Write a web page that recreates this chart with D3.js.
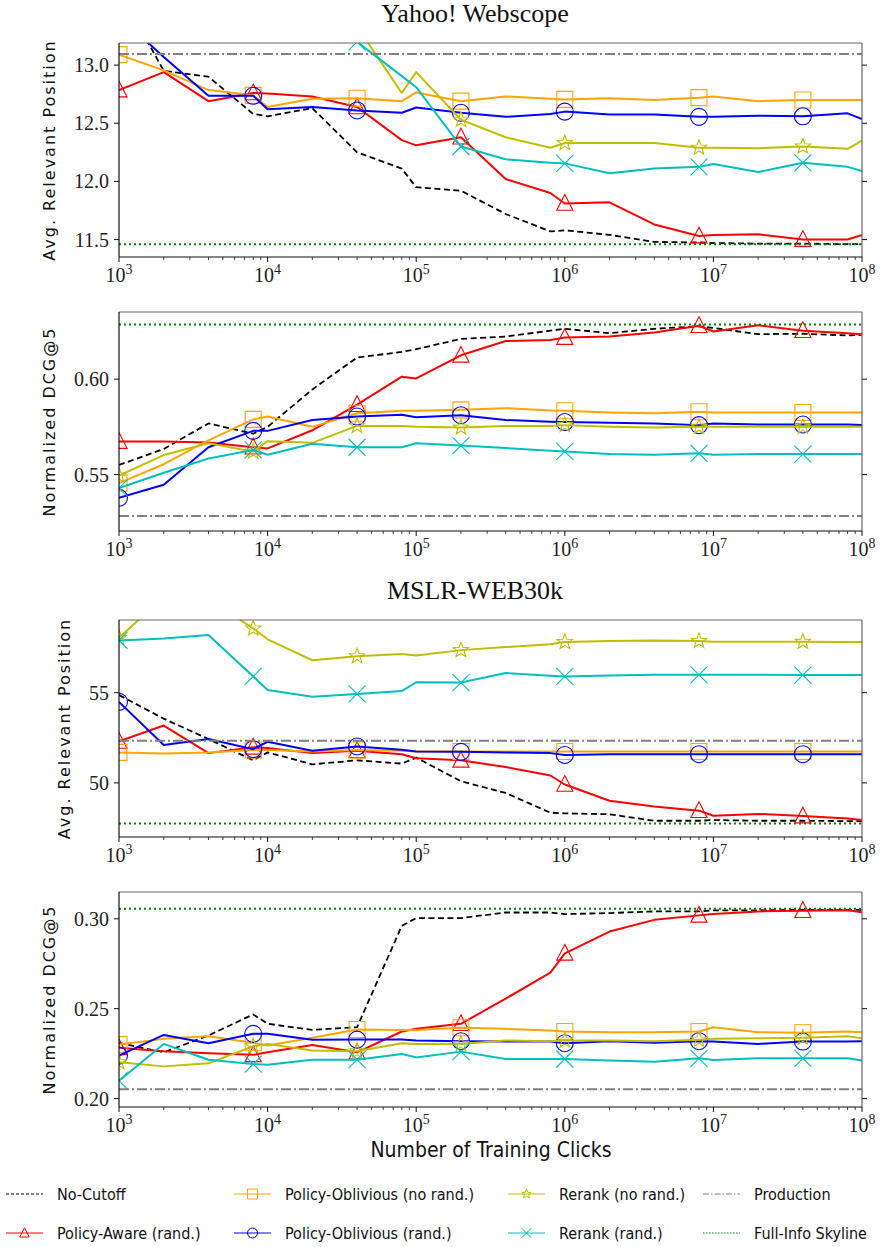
<!DOCTYPE html>
<html>
<head>
<meta charset="utf-8">
<script src="https://cdn.jsdelivr.net/npm/d3@7"></script>
<style>
  body { margin: 0; background: #fff; }
  svg { display: block; }
  .tick-label { font-family: "Liberation Serif", "DejaVu Serif", serif; font-size: 20px; fill: #222; }
  .ylab { font-family: "DejaVu Sans", sans-serif; font-size: 16px; letter-spacing: 2px; fill: #111; }
  .title { font-family: "Liberation Serif", serif; font-size: 26px; fill: #111; }
  .xlab { font-family: "Liberation Sans Narrow", "DejaVu Sans Condensed", "DejaVu Sans", sans-serif; font-stretch: condensed; font-size: 21px; fill: #111; }
  .leg { font-family: "Liberation Sans Narrow", "DejaVu Sans Condensed", "DejaVu Sans", sans-serif; font-stretch: condensed; font-size: 16px; fill: #111; }
</style>
</head>
<body>
<script>
// x positions of every run (training clicks)
var clicks = [1e3, 2e3, 4e3, 8e3, 1e4, 2e4, 4e4, 8e4, 1e5, 2e5, 4e5, 8e5, 1e6, 2e6, 4e6, 8e6, 1e7, 2e7, 4e7, 8e7, 1e8];
var xTicks = [1e3, 1e4, 1e5, 1e6, 1e7, 1e8];

var seriesNames = ["No-Cutoff", "Policy-Aware (rand.)", "Policy-Oblivious (no rand.)", "Policy-Oblivious (rand.)", "Rerank (no rand.)", "Rerank (rand.)"];

// Yahoo! Webscope - avg. relevant position
var yahooPosNoCutoff = [13.65, 12.95, 12.90, 12.58, 12.56, 12.63, 12.25, 12.11, 11.95, 11.92, 11.72, 11.57, 11.58, 11.54, 11.48, 11.475, 11.47, 11.465, 11.465, 11.46, 11.46];
var yahooPosAware = [12.785, 12.94, 12.69, 12.76, 12.755, 12.73, 12.64, 12.355, 12.31, 12.38, 12.02, 11.90, 11.81, 11.82, 11.63, 11.53, 11.54, 11.545, 11.50, 11.50, 11.54];
var yahooPosOblNoRand = [13.09, 12.955, 12.785, 12.74, 12.64, 12.71, 12.715, 12.69, 12.765, 12.69, 12.73, 12.71, 12.705, 12.715, 12.70, 12.72, 12.73, 12.69, 12.70, 12.70, 12.70];
var yahooPosOblRand = [13.42, 13.07, 12.736, 12.736, 12.62, 12.64, 12.61, 12.59, 12.635, 12.59, 12.555, 12.58, 12.60, 12.575, 12.575, 12.555, 12.555, 12.565, 12.56, 12.585, 12.535];
var yahooPosRerankNoRand = [14.5, 14.3, 14.1, 13.9, 13.8, 13.6, 13.33, 12.76, 12.94, 12.53, 12.38, 12.29, 12.33, 12.33, 12.33, 12.29, 12.29, 12.285, 12.30, 12.28, 12.35];
var yahooPosRerankRand = [14.4, 14.2, 14.0, 13.9, 13.8, 13.5, 13.2, 12.905, 12.81, 12.30, 12.19, 12.16, 12.155, 12.07, 12.11, 12.125, 12.15, 12.08, 12.16, 12.125, 12.09];

// Yahoo! Webscope - normalized DCG@5
var yahooDcgNoCutoff = [0.555, 0.5634, 0.5768, 0.5714, 0.575, 0.5946, 0.6113, 0.6143, 0.6157, 0.6211, 0.6223, 0.6254, 0.6264, 0.6241, 0.6264, 0.6277, 0.6268, 0.6236, 0.6238, 0.6229, 0.6232];
var yahooDcgAware = [0.5673, 0.5673, 0.5668, 0.5643, 0.5637, 0.5732, 0.5866, 0.6013, 0.6004, 0.6125, 0.620, 0.6205, 0.6218, 0.6223, 0.6245, 0.628, 0.625, 0.6282, 0.6254, 0.6241, 0.6236];
var yahooDcgOblNoRand = [0.5455, 0.5554, 0.5679, 0.5789, 0.5804, 0.575, 0.5821, 0.5834, 0.5834, 0.5839, 0.5848, 0.5836, 0.5834, 0.5825, 0.5821, 0.5829, 0.5825, 0.5825, 0.5825, 0.5825, 0.5825];
var yahooDcgOblRand = [0.5378, 0.5446, 0.5643, 0.5729, 0.5729, 0.5786, 0.5804, 0.5813, 0.580, 0.5811, 0.5786, 0.5777, 0.5775, 0.5771, 0.5768, 0.5759, 0.5768, 0.5762, 0.5762, 0.5762, 0.5759];
var yahooDcgRerankNoRand = [0.5495, 0.5602, 0.5664, 0.562, 0.5675, 0.5666, 0.5755, 0.5755, 0.575, 0.5746, 0.5754, 0.5754, 0.5759, 0.575, 0.5746, 0.575, 0.575, 0.575, 0.575, 0.575, 0.575];
var yahooDcgRerankRand = [0.5429, 0.5509, 0.5584, 0.5629, 0.5604, 0.5661, 0.5643, 0.5643, 0.5664, 0.5652, 0.5639, 0.5625, 0.5621, 0.5607, 0.5604, 0.5611, 0.5604, 0.5607, 0.5607, 0.5607, 0.5607];

// MSLR-WEB30k - avg. relevant position
var mslrPosNoCutoff = [54.87, 53.56, 52.43, 51.25, 51.69, 51.03, 51.25, 51.07, 51.40, 50.09, 49.44, 48.35, 48.31, 48.26, 47.90, 47.90, 47.94, 47.90, 47.90, 47.88, 47.88];
var mslrPosAware = [52.30, 53.18, 51.65, 51.97, 51.93, 51.65, 51.78, 51.59, 51.37, 51.25, 50.88, 50.41, 49.91, 49.01, 48.69, 48.46, 48.18, 48.28, 48.16, 48.03, 47.94];
var mslrPosOblNoRand = [51.69, 51.63, 51.69, 51.82, 51.82, 51.74, 51.82, 51.78, 51.74, 51.74, 51.74, 51.74, 51.74, 51.74, 51.74, 51.74, 51.74, 51.74, 51.74, 51.74, 51.74];
var mslrPosOblRand = [54.49, 52.10, 52.43, 51.87, 52.28, 51.78, 52.02, 51.84, 51.74, 51.72, 51.69, 51.65, 51.55, 51.59, 51.59, 51.59, 51.59, 51.59, 51.59, 51.59, 51.59];
var mslrPosRerankNoRand = [58.05, 60.3, 60.2, 58.56, 57.96, 56.80, 57.02, 57.15, 57.06, 57.36, 57.53, 57.68, 57.81, 57.87, 57.90, 57.87, 57.83, 57.83, 57.82, 57.81, 57.81];
var mslrPosRerankRand = [57.90, 58.01, 58.20, 55.90, 55.15, 54.78, 54.93, 55.09, 55.58, 55.56, 56.09, 55.94, 55.90, 55.96, 55.99, 55.99, 55.99, 55.99, 55.98, 55.98, 55.98];

// MSLR-WEB30k - normalized DCG@5
var mslrDcgNoCutoff = [0.231, 0.2257, 0.2351, 0.2468, 0.2416, 0.2382, 0.2397, 0.2961, 0.3004, 0.3004, 0.3035, 0.3035, 0.3026, 0.3032, 0.3041, 0.3041, 0.3047, 0.3047, 0.305, 0.305, 0.305];
var mslrDcgAware = [0.2282, 0.2263, 0.2252, 0.2243, 0.2257, 0.2298, 0.2257, 0.2373, 0.2388, 0.2416, 0.2556, 0.270, 0.2808, 0.2929, 0.2994, 0.3019, 0.3026, 0.3041, 0.3045, 0.3047, 0.3037];
var mslrDcgOblNoRand = [0.230, 0.2332, 0.2347, 0.231, 0.2295, 0.2338, 0.2384, 0.2382, 0.2382, 0.2394, 0.2388, 0.2379, 0.2373, 0.2369, 0.2369, 0.2373, 0.2397, 0.2369, 0.2366, 0.2373, 0.2369];
var mslrDcgOblRand = [0.2239, 0.2354, 0.2308, 0.236, 0.236, 0.2327, 0.2328, 0.2328, 0.2323, 0.2319, 0.2317, 0.2317, 0.2308, 0.2319, 0.231, 0.2319, 0.2317, 0.2304, 0.2317, 0.2317, 0.2319];
var mslrDcgRerankNoRand = [0.2202, 0.2179, 0.2196, 0.2291, 0.2304, 0.2267, 0.2263, 0.2308, 0.2304, 0.2304, 0.2323, 0.2319, 0.2323, 0.2323, 0.2319, 0.2327, 0.2332, 0.2335, 0.2338, 0.2347, 0.2336];
var mslrDcgRerankRand = [0.2099, 0.2304, 0.2216, 0.2192, 0.2188, 0.2216, 0.2216, 0.2248, 0.2229, 0.2261, 0.222, 0.222, 0.222, 0.2211, 0.2205, 0.2224, 0.2215, 0.2224, 0.2224, 0.2224, 0.2211];

// constant baselines per panel: production ranker and full-info skyline
var productionValues = [13.095, 0.5282, 52.34, 0.2052];
var skylineValues = [11.46, 0.6286, 47.75, 0.3056];

var yTicksYahooPos = [11.5, 12.0, 12.5, 13.0];
var yTicksYahooDcg = [0.55, 0.60];
var yTicksMslrPos = [50, 55];
var yTicksMslrDcg = [0.20, 0.25, 0.30];

var width = 885, height = 1247;
var left = 119, right = 862;

var styles = [
  { color: "#000000", dash: "6,3.5", width: 1.8, marker: null },
  { color: "#ff0000", dash: null, width: 2, marker: "triangle" },
  { color: "#ffa500", dash: null, width: 2, marker: "square" },
  { color: "#0000ff", dash: null, width: 2, marker: "circle" },
  { color: "#bfbf00", dash: null, width: 2, marker: "star" },
  { color: "#00bfbf", dash: null, width: 2, marker: "x" }
];

var panels = [
  { top: 43, bottom: 257, domain: [11.35, 13.19], ticks: yTicksYahooPos, fmt: d3.format(".1f"),
    ylabel: "Avg. Relevant Position", ylabX: 55, title: "Yahoo! Webscope", titleY: 22,
    series: [yahooPosNoCutoff, yahooPosAware, yahooPosOblNoRand, yahooPosOblRand, yahooPosRerankNoRand, yahooPosRerankRand] },
  { top: 312, bottom: 531, domain: [0.5204, 0.6352], ticks: yTicksYahooDcg, fmt: d3.format(".2f"),
    ylabel: "Normalized DCG@5", ylabX: 55,
    series: [yahooDcgNoCutoff, yahooDcgAware, yahooDcgOblNoRand, yahooDcgOblRand, yahooDcgRerankNoRand, yahooDcgRerankRand] },
  { top: 620, bottom: 837, domain: [47.0, 59.03], ticks: yTicksMslrPos, fmt: d3.format("d"),
    ylabel: "Avg. Relevant Position", ylabX: 70, title: "MSLR-WEB30k", titleY: 599,
    series: [mslrPosNoCutoff, mslrPosAware, mslrPosOblNoRand, mslrPosOblRand, mslrPosRerankNoRand, mslrPosRerankRand] },
  { top: 892, bottom: 1107, domain: [0.1953, 0.3149], ticks: yTicksMslrDcg, fmt: d3.format(".2f"),
    ylabel: "Normalized DCG@5", ylabX: 55,
    series: [mslrDcgNoCutoff, mslrDcgAware, mslrDcgOblNoRand, mslrDcgOblRand, mslrDcgRerankNoRand, mslrDcgRerankRand] }
];

var svg = d3.select("body").append("svg")
  .attr("width", width)
  .attr("height", height);

var x = d3.scaleLog().domain([1e3, 1e8]).range([left, right]);

// marker path, centred on 0,0
function markerPath(kind, s) {
  var h = s / 2;
  if (kind == "square") return "M" + (-h) + "," + (-h) + "h" + s + "v" + s + "h" + (-s) + "Z";
  if (kind == "circle") return d3.symbol(d3.symbolCircle, Math.PI * h * h)();
  if (kind == "triangle") return "M0," + (-h * 1.05) + "L" + (h * 0.95) + "," + (h * 0.8) + "L" + (-h * 0.95) + "," + (h * 0.8) + "Z";
  if (kind == "x") return "M" + (-h) + "," + (-h) + "L" + h + "," + h + "M" + (-h) + "," + h + "L" + h + "," + (-h);
  if (kind == "star") {
    var pts = [];
    for (var i = 0; i < 10; i++) {
      var r = i % 2 == 0 ? h : h * 0.42;
      var a = -Math.PI / 2 + i * Math.PI / 5;
      pts.push([r * Math.cos(a), r * Math.sin(a)]);
    }
    return "M" + pts.map(function(p) { return p[0].toFixed(2) + "," + p[1].toFixed(2); }).join("L") + "Z";
  }
  return "";
}

var markerSize = { square: 16, circle: 17, triangle: 17, x: 17, star: 16 };

panels.forEach(function(p, pi) {
  var y = d3.scaleLinear().domain(p.domain).range([p.bottom, p.top]);
  var g = svg.append("g");

  var clipId = "clip" + pi;
  svg.append("clipPath").attr("id", clipId)
    .append("rect")
    .attr("x", left).attr("y", p.top)
    .attr("width", right - left).attr("height", p.bottom - p.top);

  var plot = g.append("g").attr("clip-path", "url(#" + clipId + ")");

  var line = d3.line()
    .x(function(d, i) { return x(clicks[i]); })
    .y(function(d) { return y(d); });

  p.series.forEach(function(vals, si) {
    var st = styles[si];
    plot.append("path")
      .datum(vals)
      .attr("d", line)
      .attr("fill", "none")
      .attr("stroke", st.color)
      .attr("stroke-width", st.width)
      .attr("stroke-dasharray", st.dash)
      .attr("stroke-linejoin", "round");
    if (st.marker) {
      plot.selectAll(".m" + si)
        .data(vals.filter(function(d, i) { return i % 3 == 0; }))
        .enter().append("path")
        .attr("class", "m" + si)
        .attr("transform", function(d, i) { return "translate(" + x(clicks[i * 3]) + "," + y(d) + ")"; })
        .attr("d", markerPath(st.marker, markerSize[st.marker]))
        .attr("fill", "none")
        .attr("stroke", st.color)
        .attr("stroke-width", 1.1);
    }
  });

  // production + skyline
  plot.append("line")
    .attr("x1", left).attr("x2", right)
    .attr("y1", y(productionValues[pi])).attr("y2", y(productionValues[pi]))
    .attr("stroke", "#808080").attr("stroke-width", 2)
    .attr("stroke-dasharray", "10,3,2,3");
  plot.append("line")
    .attr("x1", left).attr("x2", right)
    .attr("y1", y(skylineValues[pi])).attr("y2", y(skylineValues[pi]))
    .attr("stroke", "#008000").attr("stroke-width", 2)
    .attr("stroke-dasharray", "2,3");

  // frame
  g.append("line").attr("x1", left).attr("x2", right).attr("y1", p.top).attr("y2", p.top).attr("stroke", "#666").attr("stroke-width", 1.2);
  g.append("line").attr("x1", right).attr("x2", right).attr("y1", p.top).attr("y2", p.bottom).attr("stroke", "#666").attr("stroke-width", 1.2);
  g.append("line").attr("x1", left).attr("x2", left).attr("y1", p.top).attr("y2", p.bottom).attr("stroke", "#111").attr("stroke-width", 1.2);
  g.append("line").attr("x1", left).attr("x2", right).attr("y1", p.bottom).attr("y2", p.bottom).attr("stroke", "#111").attr("stroke-width", 1.2);

  // x ticks (major + minor, outward)
  var minor = [];
  for (var e = 3; e < 8; e++) for (var k = 2; k < 10; k++) minor.push(k * Math.pow(10, e));
  g.selectAll(".minor").data(minor).enter().append("line")
    .attr("x1", function(d) { return x(d); }).attr("x2", function(d) { return x(d); })
    .attr("y1", p.bottom).attr("y2", p.bottom + 3)
    .attr("stroke", "#111").attr("stroke-width", 0.8);
  g.selectAll(".major").data(xTicks).enter().append("line")
    .attr("x1", function(d) { return x(d); }).attr("x2", function(d) { return x(d); })
    .attr("y1", p.bottom).attr("y2", p.bottom + 5)
    .attr("stroke", "#111").attr("stroke-width", 1);
  var xl = g.selectAll(".xlabel").data(xTicks).enter().append("text")
    .attr("class", "tick-label")
    .attr("x", function(d) { return x(d); })
    .attr("y", p.bottom + 25)
    .attr("text-anchor", "middle");
  xl.append("tspan").text("10");
  xl.append("tspan").attr("dy", -8).attr("font-size", 14).text(function(d) { return Math.round(Math.log10(d)); });

  // y ticks, both sides outward
  p.ticks.forEach(function(t) {
    var ty = y(t);
    g.append("line").attr("x1", left - 5).attr("x2", left).attr("y1", ty).attr("y2", ty).attr("stroke", "#111");
    g.append("line").attr("x1", right).attr("x2", right + 5).attr("y1", ty).attr("y2", ty).attr("stroke", "#111");
    g.append("text").attr("class", "tick-label")
      .attr("x", left - 10).attr("y", ty + 7)
      .attr("text-anchor", "end")
      .text(p.fmt(t));
  });

  g.append("text").attr("class", "ylab")
    .attr("transform", "translate(" + p.ylabX + "," + ((p.top + p.bottom) / 2) + ") rotate(-90)")
    .attr("text-anchor", "middle")
    .text(p.ylabel);

  if (p.title) {
    svg.append("text").attr("class", "title")
      .attr("x", 475).attr("y", p.titleY)
      .attr("text-anchor", "middle")
      .text(p.title);
  }
});

svg.append("text").attr("class", "xlab")
  .attr("x", 491).attr("y", 1157)
  .attr("text-anchor", "middle")
  .text("Number of Training Clicks");

// legend: 2 rows x 4 columns, filled column by column
var legendItems = seriesNames.map(function(n, i) { return { name: n, style: styles[i] }; });
legendItems.push({ name: "Production", style: { color: "#808080", dash: "6,2,1.5,2", width: 1, marker: null } });
legendItems.push({ name: "Full-Info Skyline", style: { color: "#008000", dash: "1.5,1.5", width: 1, marker: null } });
var legCols = [6, 234, 508, 703];
var legRows = [1194, 1233];

legendItems.forEach(function(item, i) {
  var cx = legCols[Math.floor(i / 2)];
  var cy = legRows[i % 2];
  var lg = svg.append("g");
  lg.append("line")
    .attr("x1", cx).attr("x2", cx + 37)
    .attr("y1", cy).attr("y2", cy)
    .attr("stroke", item.style.color)
    .attr("stroke-width", item.style.marker ? 1.2 : 1)
    .attr("stroke-dasharray", item.name == "No-Cutoff" ? "3,2" : item.style.dash);
  if (item.style.marker) {
    lg.append("path")
      .attr("transform", "translate(" + (cx + 18.5) + "," + cy + ")")
      .attr("d", markerPath(item.style.marker, 10))
      .attr("fill", "none")
      .attr("stroke", item.style.color)
      .attr("stroke-width", 1);
  }
  lg.append("text").attr("class", "leg")
    .attr("x", cx + 51).attr("y", cy + 6)
    .text(item.name);
});
</script>
</body>
</html>
